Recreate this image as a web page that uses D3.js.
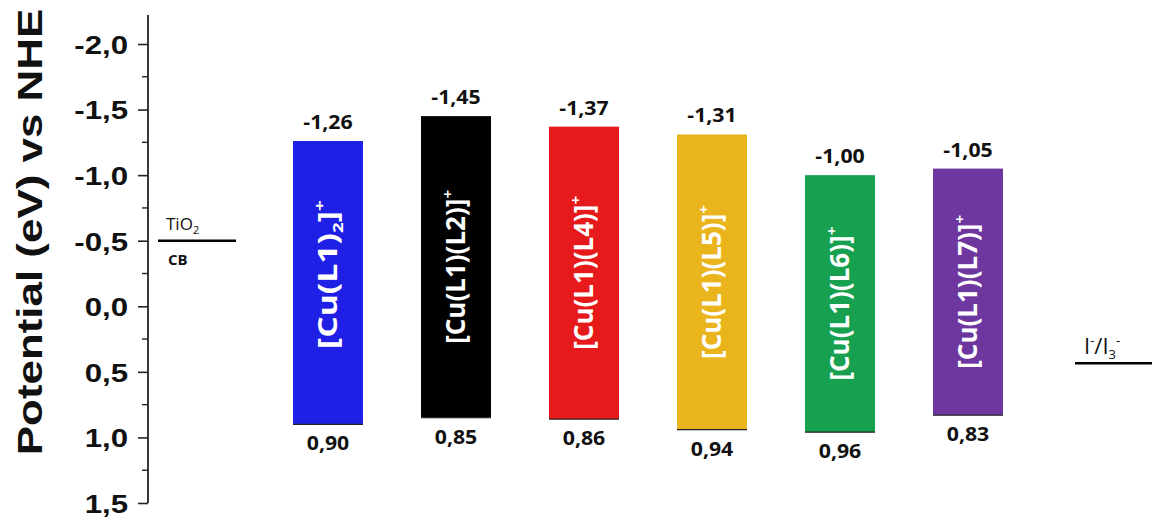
<!DOCTYPE html>
<html>
<head>
<meta charset="utf-8">
<script src="https://cdn.jsdelivr.net/npm/d3@7"></script>
<style>
  html, body { margin: 0; padding: 0; background: #fff; }
  svg { display: block; }
</style>
</head>
<body>
<svg id="chart" width="1152" height="518"></svg>
<script>
// Complexes, their LUMO (top) and HOMO (bottom) potentials in V vs NHE
const complexes = ["Cu(L1)2", "Cu(L1)(L2)", "Cu(L1)(L4)", "Cu(L1)(L5)", "Cu(L1)(L6)", "Cu(L1)(L7)"];
const lumo = [-1.26, -1.45, -1.37, -1.31, -1.00, -1.05];
const homo = [0.90, 0.85, 0.86, 0.94, 0.96, 0.83];
const barColors = ["#1f1fe6", "#000000", "#e61a1b", "#e9b41c", "#16a04f", "#6e379f"];
const yTicks = [-2.0, -1.5, -1.0, -0.5, 0.0, 0.5, 1.0, 1.5];
const tio2CB = -0.5;
const iodideLevel = 0.435;

const svg = d3.select("#chart");
// Decimal comma and plain hyphen for negatives
const comma = v => d3.format(".2f")(v).replace("\u2212", "-").replace(".", ",");
const tickFmt = v => d3.format(".1f")(v).replace("\u2212", "-").replace(".", ",");

// Potential axis: more negative values go up
const y = d3.scaleLinear().domain([-2.0, 1.5]).range([44, 503]);
const x = d3.scaleBand().domain(complexes).range([235, 1061]).paddingInner(0.453).paddingOuter(0.453);

// Axis line with major and minor ticks
const axisX = 148;
svg.append("line").attr("x1", axisX).attr("x2", axisX).attr("y1", 15).attr("y2", y(1.5))
  .attr("stroke", "#222").attr("stroke-width", 1.8);
const axis = svg.append("g").attr("transform", `translate(${axisX},0)`)
  .call(d3.axisLeft(y).tickValues(yTicks).tickSize(10).tickPadding(9).tickFormat(tickFmt));
axis.select(".domain").remove();
axis.selectAll(".tick line").attr("stroke", "#222").attr("stroke-width", 1.6);
axis.selectAll(".tick text")
  .attr("x", 0).attr("dy", "0.36em")
  .attr("transform", "translate(-20,0) scale(1.2,1)")
  .attr("font-family", "'Liberation Sans', Arial, sans-serif")
  .attr("font-weight", "bold").attr("font-size", 26).attr("fill", "#111");
const minor = d3.range(-1.75, 1.5, 0.5);
svg.append("g").selectAll("line").data(minor).join("line")
  .attr("x1", axisX - 6).attr("x2", axisX)
  .attr("y1", d => y(d)).attr("y2", d => y(d))
  .attr("stroke", "#222").attr("stroke-width", 1.4);

// Axis title
svg.append("text")
  .attr("transform", `translate(42,232) rotate(-90) scale(1.22,1)`)
  .attr("text-anchor", "middle")
  .attr("font-family", "'Liberation Sans', Arial, sans-serif")
  .attr("font-weight", "bold").attr("font-size", 36).attr("fill", "#111")
  .text("Potential (eV) vs NHE");

// TiO2 conduction band level
svg.append("line").attr("x1", 158).attr("x2", 236).attr("y1", y(tio2CB)).attr("y2", y(tio2CB))
  .attr("stroke", "#000").attr("stroke-width", 2.5);
const tio2 = svg.append("text").attr("x", 166).attr("y", y(tio2CB) - 11)
  .attr("font-family", "'Open Sans', sans-serif").attr("font-size", 17).attr("fill", "#111");
tio2.append("tspan").text("TiO");
tio2.append("tspan").attr("font-size", 11).attr("dy", 4).text("2");
svg.append("text").attr("x", 168).attr("y", y(tio2CB) + 24)
  .attr("font-family", "'Open Sans', sans-serif").attr("font-weight", "bold")
  .attr("font-size", 15).attr("fill", "#111").text("CB");

// I-/I3- redox level
svg.append("line").attr("x1", 1075).attr("x2", 1152).attr("y1", y(iodideLevel)).attr("y2", y(iodideLevel))
  .attr("stroke", "#000").attr("stroke-width", 2.5);
const redox = svg.append("text").attr("x", 1084).attr("y", y(iodideLevel) - 9)
  .attr("font-family", "'Open Sans', sans-serif").attr("font-size", 22).attr("fill", "#111");
redox.append("tspan").text("I");
redox.append("tspan").attr("font-size", 13).attr("dy", -9).text("-");
redox.append("tspan").attr("dy", 9).text("/I");
redox.append("tspan").attr("font-size", 13).attr("dy", 5).text("3");
redox.append("tspan").attr("font-size", 13).attr("dy", -14).text("-");

// Energy bars
const rows = complexes.map((c, i) => ({ name: c, top: lumo[i], bottom: homo[i], color: barColors[i] }));
const g = svg.append("g");
g.selectAll("rect").data(rows).join("rect")
  .attr("x", d => x(d.name)).attr("width", x.bandwidth())
  .attr("y", d => y(d.top)).attr("height", d => y(d.bottom) - y(d.top))
  .attr("fill", d => d.color);
g.selectAll("line.base").data(rows).join("line").attr("class", "base")
  .attr("x1", d => x(d.name)).attr("x2", d => x(d.name) + x.bandwidth())
  .attr("y1", d => y(d.bottom)).attr("y2", d => y(d.bottom))
  .attr("stroke", "#222").attr("stroke-width", 1.2);

// Value labels above and below each bar
const labelFont = "'Open Sans', 'Noto Sans', sans-serif";
const cx = d => x(d.name) + x.bandwidth() / 2;
g.selectAll("text.top").data(rows).join("text").attr("class", "top")
  .attr("transform", d => `translate(${cx(d)},${y(d.top) - 12}) scale(1.12,1)`)
  .attr("text-anchor", "middle").attr("font-family", labelFont)
  .attr("font-weight", "bold").attr("font-size", 19).attr("fill", "#111")
  .text(d => comma(d.top));
g.selectAll("text.bot").data(rows).join("text").attr("class", "bot")
  .attr("transform", d => `translate(${cx(d)},${y(d.bottom) + 26}) scale(1.12,1)`)
  .attr("text-anchor", "middle").attr("font-family", labelFont)
  .attr("font-weight", "bold").attr("font-size", 19).attr("fill", "#111")
  .text(d => comma(d.bottom));

// Rotated complex names inside the bars
const names = g.selectAll("text.name").data(rows).join("text").attr("class", "name")
  .attr("transform", d => `translate(${cx(d) + 9},${(y(d.top) + y(d.bottom)) / 2 - (d.name === "Cu(L1)2" ? 8 : 0)}) rotate(-90)` +
    (d.name === "Cu(L1)2" ? " scale(1.25,1)" : ""))
  .attr("text-anchor", "middle").attr("font-family", labelFont)
  .attr("font-weight", "bold").attr("fill", "#fff")
  .attr("font-size", d => d.name === "Cu(L1)2" ? 27 : 26);
names.each(function (d) {
  const t = d3.select(this);
  if (d.name === "Cu(L1)2") {
    t.append("tspan").text("[Cu(L1)");
    t.append("tspan").attr("font-size", 15).attr("dy", 6).text("2");
    t.append("tspan").attr("dy", -6).text("]");
  } else {
    t.append("tspan").text("[" + d.name + "]");
  }
  t.append("tspan").attr("font-size", 15).attr("dy", -12).text("+");
});
</script>
</body>
</html>
